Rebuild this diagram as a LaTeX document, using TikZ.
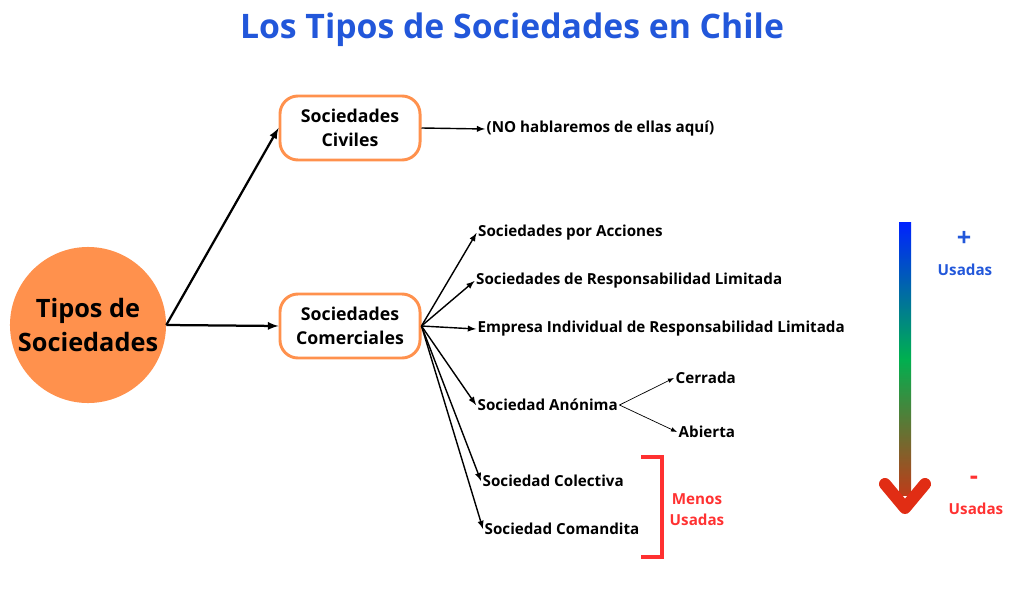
\documentclass[tikz,border=0pt]{standalone}
\usepackage{fontspec}
\setmainfont{Open Sans}
\usetikzlibrary{positioning}
\definecolor{naranja}{RGB}{255,145,77}
\definecolor{azul}{RGB}{34,87,218}
\definecolor{rojo}{RGB}{255,49,49}
\tikzset{
	caja/.style={draw=naranja, line width=2.1pt, fill=white, rounded corners=0.45cm, minimum width=3.5cm, minimum height=1.6cm, align=center, font=\bfseries\fontsize{12.6}{17}\selectfont},
	tipo/.style={anchor=west, inner sep=1pt, font=\bfseries\fontsize{10.8}{13}\selectfont},
	flecha/.style={line width=1pt, -latex},
}
\begin{document}
\begin{tikzpicture}[x=0.025cm,y=-0.025cm]
	\useasboundingbox (0,0) rectangle (1024,597);
	\node[text=azul, font=\bfseries\fontsize{24}{28}\selectfont] (titulo) at (512,30) {Los Tipos de Sociedades en Chile};
	\node[circle, fill=naranja, minimum size=3.9cm, inner sep=0pt, align=center, font=\bfseries\fontsize{18}{24}\selectfont] (tipos) at (88,325) {Tipos de\\Sociedades};
	\node[caja] (civiles) at (350,128) {Sociedades\\Civiles};
	\node[caja] (comerciales) at (350,326) {Sociedades\\Comerciales};
	\node[tipo] (nohablar) at (485,129) {(NO hablaremos de ellas aquí)};
	\node[tipo] (acciones) at (476.5,233) {Sociedades por Acciones};
	\node[tipo] (srl) at (474.5,281) {Sociedades de Responsabilidad Limitada};
	\node[tipo] (eirl) at (476,329) {Empresa Individual de Responsabilidad Limitada};
	\node[tipo] (anonima) at (476,405) {Sociedad Anónima};
	\node[tipo] (cerrada) at (674,378) {Cerrada};
	\node[tipo] (abierta) at (677,432) {Abierta};
	\node[tipo] (colectiva) at (481,481) {Sociedad Colectiva};
	\node[tipo] (comandita) at (483,529) {Sociedad Comandita};
	\node[text=rojo, align=center, font=\bfseries\fontsize{10.8}{15}\selectfont] (menos) at (697,510) {Menos\\Usadas};
	\node[text=azul, font=\bfseries\fontsize{18}{20}\selectfont] (mas) at (964,239) {+};
	\node[text=azul, font=\bfseries\fontsize{10.8}{13}\selectfont] (masusadas) at (965,270) {Usadas};
	\node[text=rojo, font=\bfseries\fontsize{18}{20}\selectfont] (menossig) at (974,480) {-};
	\node[text=rojo, font=\bfseries\fontsize{10.8}{13}\selectfont] (menosusadas) at (976,509) {Usadas};
	\draw[line width=1.6pt, -latex] (tipos.east) -- (civiles.west);
	\draw[line width=1.6pt, -latex] (tipos.east) -- (comerciales.west);
	\draw[flecha] (civiles.east) -- (nohablar.west);
	\draw[flecha] (comerciales.east) -- (acciones.west);
	\draw[flecha] (comerciales.east) -- (srl.west);
	\draw[flecha] (comerciales.east) -- (eirl.west);
	\draw[flecha] (comerciales.east) -- (anonima.west);
	\draw[flecha] (comerciales.east) -- (colectiva.west);
	\draw[flecha] (comerciales.east) -- (comandita.west);
	\draw[line width=0.5pt, -latex] (anonima.east) -- (cerrada.west);
	\draw[line width=0.5pt, -latex] (anonima.east) -- (abierta.west);
	\draw[rojo, line width=2.2pt] (641,457) -- (662,457) -- (662,557) -- (641,557);
	\shade[top color={rgb,255:red,0;green,34;blue,255}, bottom color={rgb,255:red,190;green,60;blue,25}, middle color={rgb,255:red,0;green,176;blue,80}] (899,222) rectangle (911,495);
	\draw[line width=0.3cm, line cap=round, line join=round, color={rgb,255:red,225;green,45;blue,20}] (885,484) -- (905,508) -- (925,484);
\end{tikzpicture}
\end{document}
